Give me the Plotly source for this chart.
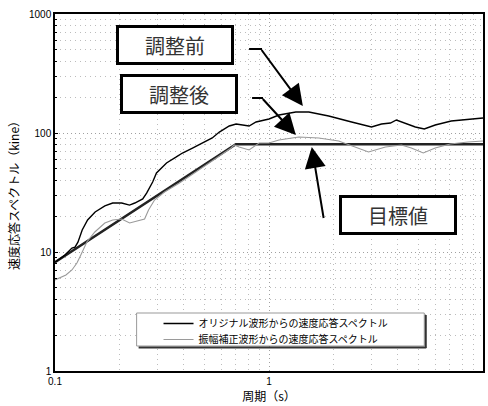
import plotly.graph_objects as go

# Velocity response spectra (period in s, velocity in kine)
period_orig = [0.100, 0.111, 0.120, 0.124, 0.128, 0.134, 0.142, 0.154, 0.171, 0.186,
               0.205, 0.223, 0.236, 0.257, 0.268, 0.286, 0.298, 0.332, 0.369, 0.394,
               0.439, 0.488, 0.543, 0.586, 0.652, 0.702, 0.749, 0.807, 0.870, 1.000,
               1.113, 1.335, 1.535, 1.901, 2.432, 3.013, 3.355, 3.694, 3.939, 4.337,
               4.828, 5.316, 5.980, 7.099, 8.517, 10.00]
vel_orig = [8.2, 9.4, 10.8, 11.0, 12.1, 15.3, 18.6, 21.7, 24.4, 25.8,
            25.8, 24.8, 25.8, 27.9, 31.3, 38.7, 46.1, 56.0, 62.9, 67.9,
            74.8, 82.4, 90.8, 101.9, 114.5, 119.0, 116.7, 114.5, 123.7, 131.1,
            141.7, 150.2, 150.2, 138.9, 123.7, 112.3, 119.0, 121.3, 128.6, 121.3,
            112.3, 108.0, 116.7, 126.2, 131.1, 133.7]

period_adj = [0.100, 0.1125, 0.120, 0.1266, 0.1307, 0.135, 0.1409, 0.1535, 0.1709, 0.1861,
              0.2049, 0.2233, 0.2406, 0.2622, 0.2736, 0.2918, 0.3249, 0.3814, 0.4479, 0.526,
              0.6175, 0.6655, 0.6874, 0.725, 0.8071, 0.8985, 1.000, 1.113, 1.379, 1.708,
              2.117, 2.540, 2.918, 3.501, 4.156, 4.626, 5.260, 5.980, 7.022, 8.517, 10.00]
vel_adj = [5.82, 6.41, 7.06, 8.08, 9.08, 10.39, 12.14, 14.73, 17.53, 18.57,
           18.94, 17.53, 18.21, 18.94, 22.54, 27.35, 31.9, 38.0, 46.1, 56.0,
           67.9, 74.8, 79.3, 76.3, 72.0, 82.4, 82.4, 87.4, 92.5, 90.8,
           85.7, 76.3, 69.2, 76.3, 79.3, 74.8, 67.9, 74.8, 80.8, 84.1, 85.7]

period_target = [0.10, 0.70, 10.0]
vel_target = [8.2, 80.5, 80.5]

legend_names = ["オリジナル波形からの速度応答スペクトル", "振幅補正波形からの速度応答スペクトル"]

W, H = 488, 406
ML, MR, MT, MB = 55, 3, 14, 35
PW, PH = W - ML - MR, H - MT - MB

def fx(p):
    return (p - ML) / PW

def fy(p):
    return (H - MB - p) / PH

JP = "Noto Sans CJK JP"
LAT = "Liberation Sans, Noto Sans CJK JP"

fig = go.Figure()
fig.add_trace(go.Scatter(x=period_target, y=vel_target, mode="lines",
                         line=dict(color="#222222", width=2.6), showlegend=False,
                         hoverinfo="skip"))
fig.add_trace(go.Scatter(x=period_orig, y=vel_orig, mode="lines", name=legend_names[0],
                         line=dict(color="#000000", width=1.4), legend="legend"))
fig.add_trace(go.Scatter(x=period_adj, y=vel_adj, mode="lines", name=legend_names[1],
                         line=dict(color="#9a9a9a", width=1.1), legend="legend2"))

minor_x = [m * 10 ** e for e in (-1, 0) for m in range(2, 10)]
minor_y = [m * 10 ** e for e in (0, 1, 2) for m in range(2, 10)]

grid_major = dict(showgrid=True, gridcolor="#a0a0a0", griddash="1px,3px", gridwidth=1)
grid_minor = dict(showgrid=True, gridcolor="#bcbcbc", griddash="1px,4px", gridwidth=1)

fig.update_xaxes(type="log", range=[-1, 1], tickvals=[0.1, 1, 10], ticktext=["0.1", "1", "10"],
                 showline=True, linecolor="#000", linewidth=1.5, mirror=True,
                 ticks="", tickfont=dict(family=LAT, size=10, color="#000"),
                 minor=dict(tickvals=minor_x, ticks="", **grid_minor),
                 title=dict(text="周期（s）", font=dict(family=JP, size=12, color="#000"),
                            standoff=6),
                 zeroline=False, **grid_major)
fig.update_yaxes(type="log", range=[0, 3], tickvals=[1, 10, 100, 1000],
                 ticktext=["1", "10", "100", "1000"],
                 showline=True, linecolor="#000", linewidth=1.5, mirror=True,
                 ticks="inside", ticklen=3, tickcolor="#000",
                 tickfont=dict(family=LAT, size=10, color="#000"),
                 minor=dict(tickvals=minor_y, ticks="inside", ticklen=2, tickcolor="#000",
                            **grid_minor),
                 title=dict(text="速度応答スペクトル（kine）",
                            font=dict(family=JP, size=12, color="#000"), standoff=7),
                 zeroline=False, **grid_major)

# legend frame with a dark drop edge
lx0, ly0, lx1, ly1 = 137, 313, 426, 346
shapes = [
    dict(type="rect", xref="paper", yref="paper", x0=fx(lx0), x1=fx(lx1), y0=fy(ly1), y1=fy(ly0),
         fillcolor="white", line=dict(color="#999", width=1), layer="above"),
    dict(type="line", xref="paper", yref="paper", x0=fx(lx0 + 2), x1=fx(lx1 + 2), y0=fy(ly1 + 1.5),
         y1=fy(ly1 + 1.5), line=dict(color="#333", width=2), layer="above"),
    dict(type="line", xref="paper", yref="paper", x0=fx(lx1 + 1.5), x1=fx(lx1 + 1.5), y0=fy(ly0 + 2),
         y1=fy(ly1 + 2), line=dict(color="#333", width=2), layer="above"),
    # horizontal lead-ins of the callout arrows
    dict(type="line", xref="paper", yref="paper", x0=fx(250), x1=fx(263), y0=fy(49), y1=fy(49),
         line=dict(color="#000", width=2), layer="above"),
    dict(type="line", xref="paper", yref="paper", x0=fx(253), x1=fx(264), y0=fy(98), y1=fy(98),
         line=dict(color="#000", width=2), layer="above"),
]

def label_box(text, cx, cy):
    return dict(text=text, xref="paper", yref="paper", x=fx(cx), y=fy(cy),
                xanchor="center", yanchor="middle", showarrow=False,
                font=dict(family=JP, size=20, color="#333"),
                bgcolor="white", bordercolor="#000", borderwidth=3, borderpad=0,
                width=112, height=34)

def arrow(tx, ty, sx, sy):
    return dict(text="", xref="paper", yref="paper", x=fx(tx), y=fy(ty),
                ax=sx - tx, ay=sy - ty, showarrow=True, arrowhead=2,
                arrowsize=2.1, arrowwidth=2, arrowcolor="#000", standoff=0,
                width=1, height=1, borderpad=0)

annotations = [
    label_box("調整前", 176, 44.5),
    label_box("調整後", 179.5, 94),
    label_box("目標値", 400, 214.5),
    arrow(304, 106, 262, 49),
    arrow(297, 135, 263, 98),
    arrow(313, 147, 325, 219),
]

legend_style = dict(xanchor="left", yanchor="top", bgcolor="rgba(0,0,0,0)", borderwidth=0,
                    font=dict(family=JP, size=10, color="#000"))

fig.update_layout(
    width=W, height=H,
    margin=dict(l=ML, r=MR, t=MT, b=MB),
    paper_bgcolor="white", plot_bgcolor="white",
    font=dict(family=LAT, size=10, color="#000"),
    shapes=shapes, annotations=annotations,
    legend=dict(x=fx(159), y=fy(309), **legend_style),
    legend2=dict(x=fx(159), y=fy(325), **legend_style),
)

fig.write_html("out.html")
